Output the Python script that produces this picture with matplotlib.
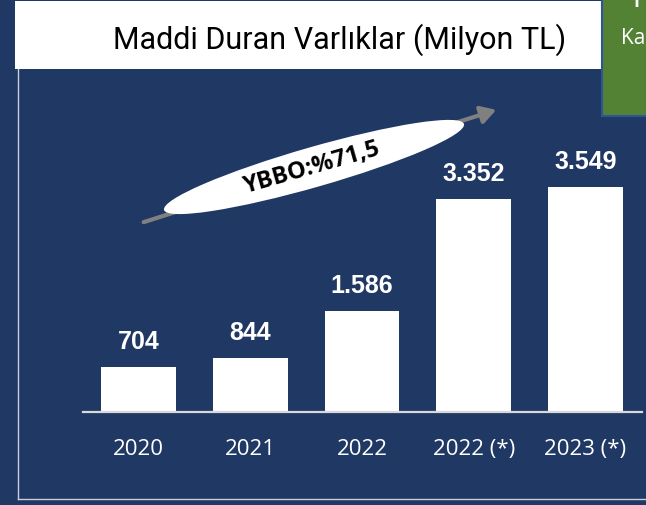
import matplotlib
matplotlib.use('Agg')
import matplotlib.pyplot as plt
from matplotlib.patches import Rectangle, Ellipse, FancyArrowPatch

# data
years = ['2020', '2021', '2022', '2022 (*)', '2023 (*)']
values = [704, 844, 1586, 3352, 3549]
value_labels = ['704', '844', '1.586', '3.352', '3.549']
title = 'Maddi Duran Varlıklar (Milyon TL)'
growth_label = 'YBBO:%71,5'

NAVY = '#203864'
GREEN = '#548235'
W, H = 646, 506

fig = plt.figure(figsize=(W / 100, H / 100), dpi=100)
fig.patch.set_facecolor(NAVY)

# overlay axes in pixel coordinates
bg = fig.add_axes([0, 0, 1, 1])
bg.set_xlim(0, W)
bg.set_ylim(H, 0)
bg.axis('off')

# title box
bg.add_patch(Rectangle((15, 2), 586, 68, facecolor='white', edgecolor='none'))
bg.text(340, 40, title, ha='center', va='center', fontsize=22,
        family=['Roboto', 'DejaVu Sans'], color='black')

# green side box (cut off by the slide edge)
bg.add_patch(Rectangle((602, -5), 60, 122, facecolor=GREEN,
                       edgecolor='#2f5597', linewidth=1.5))
bg.text(621, 38, 'Ka', ha='left', va='center', fontsize=15,
        family=['Open Sans', 'DejaVu Sans'], color='white')
bg.text(633, 2, 'I', ha='left', va='center', fontsize=13, fontweight='bold',
        family=['Open Sans', 'DejaVu Sans'], color='white')

# thin frame
bg.plot([18, 18], [70, 500], color='#c9d0dc', linewidth=1)
bg.plot([18, W], [500, 500], color='#c9d0dc', linewidth=1)

# growth arrow and ellipse
arrow = FancyArrowPatch((141, 224), (499, 110), arrowstyle='-|>,head_length=6,head_width=3.5',
                        color='#808080', linewidth=3, mutation_scale=1.5)
bg.add_patch(arrow)
bg.add_patch(Ellipse((314, 168), 312, 40, angle=-16, facecolor='white', edgecolor='none'))
bg.text(312, 168, growth_label, ha='center', va='center', rotation=16,
        rotation_mode='anchor', fontsize=17, fontweight='bold',
        family=['Open Sans', 'DejaVu Sans'], color='black')

# bar axes
left_px, right_px, base_px, top_px = 83, 642, 413, 100
ax = fig.add_axes([left_px / W, (H - base_px) / H,
                   (right_px - left_px) / W, (base_px - top_px) / H])
ax.set_facecolor('none')
xs = list(range(len(years)))
ax.bar(xs, values, width=0.67, color='white', zorder=2)
ax.set_xlim(-0.497, 4.506)
ax.set_ylim(0, (base_px - top_px) / 0.0634)
for x, v, lab in zip(xs, values, value_labels):
    ax.annotate(lab, (x, v), xytext=(0, 26), textcoords='offset pixels',
                ha='center', va='center', fontsize=18, fontweight='bold',
                family=['Liberation Sans', 'DejaVu Sans'], color='white')
ax.set_xticks(xs)
ax.set_xticklabels(years, fontsize=16, color='white',
                   family=['Open Sans', 'DejaVu Sans'])
ax.tick_params(axis='x', length=0, pad=19)
ax.set_yticks([])
for side in ['left', 'right', 'top']:
    ax.spines[side].set_visible(False)
ax.spines['bottom'].set_color('#d9d9d9')
ax.spines['bottom'].set_linewidth(1.6)

fig.savefig('out.png', dpi=100, facecolor=NAVY)
